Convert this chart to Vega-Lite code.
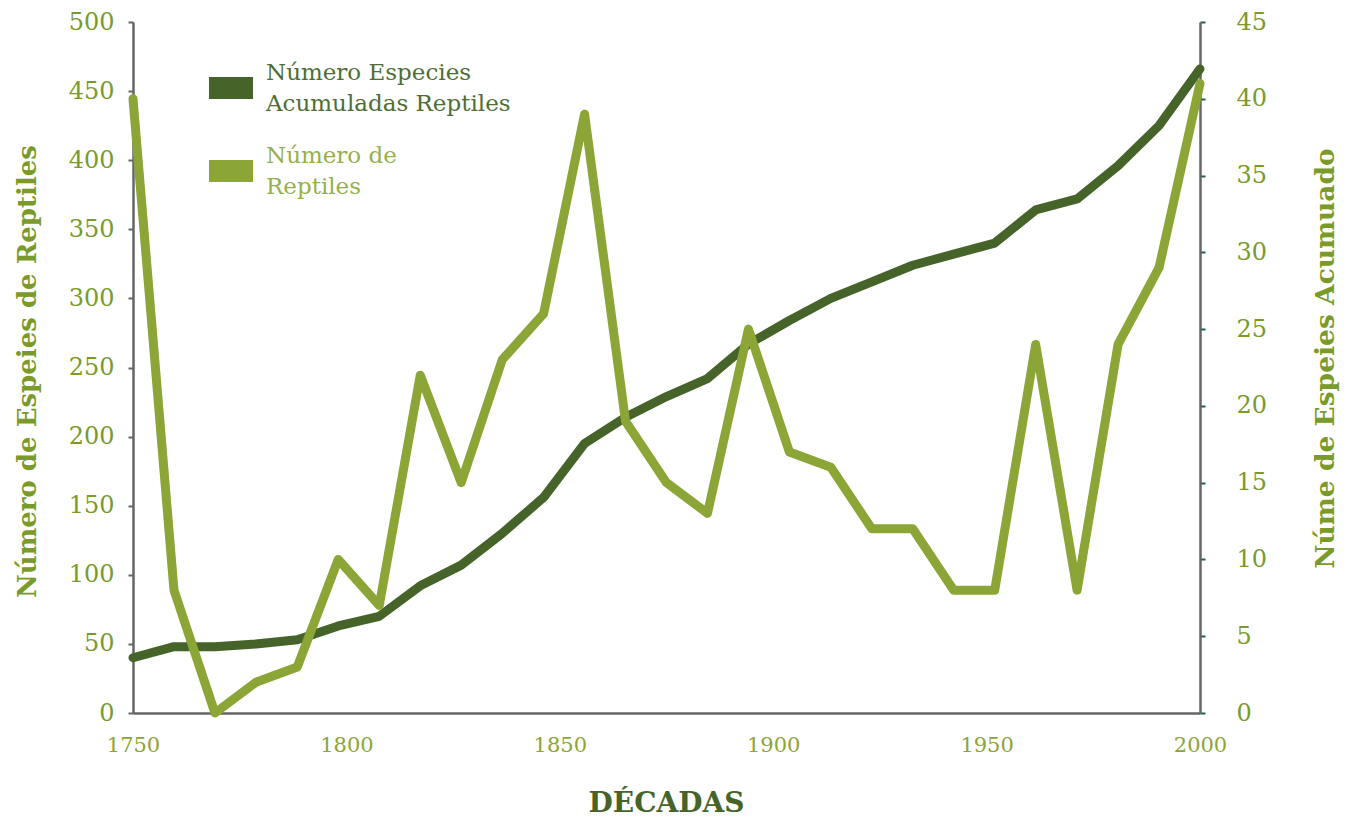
{
  "$schema": "https://vega.github.io/schema/vega-lite/v6.json",
  "width": 1067,
  "height": 691,
  "autosize": {"type": "none"},
  "padding": {"left": 133, "top": 22, "right": 149, "bottom": 105},
  "background": "white",
  "config": {
    "view": {"stroke": null},
    "font": "DejaVu Serif"
  },
  "data": {
    "values": [
      {"anio": 1750, "acum": 40, "num": 40},
      {"anio": 1759.6, "acum": 48, "num": 8},
      {"anio": 1769.2, "acum": 48, "num": 0},
      {"anio": 1778.8, "acum": 50, "num": 2},
      {"anio": 1788.5, "acum": 53, "num": 3},
      {"anio": 1798.1, "acum": 63, "num": 10},
      {"anio": 1807.7, "acum": 70, "num": 7},
      {"anio": 1817.3, "acum": 92, "num": 22},
      {"anio": 1826.9, "acum": 107, "num": 15},
      {"anio": 1836.5, "acum": 130, "num": 23},
      {"anio": 1846.2, "acum": 156, "num": 26},
      {"anio": 1855.8, "acum": 195, "num": 39},
      {"anio": 1865.4, "acum": 214, "num": 19},
      {"anio": 1875, "acum": 229, "num": 15},
      {"anio": 1884.6, "acum": 242, "num": 13},
      {"anio": 1894.2, "acum": 267, "num": 25},
      {"anio": 1903.8, "acum": 284, "num": 17},
      {"anio": 1913.5, "acum": 300, "num": 16},
      {"anio": 1923.1, "acum": 312, "num": 12},
      {"anio": 1932.7, "acum": 324, "num": 12},
      {"anio": 1942.3, "acum": 332, "num": 8},
      {"anio": 1951.9, "acum": 340, "num": 8},
      {"anio": 1961.5, "acum": 364, "num": 24},
      {"anio": 1971.2, "acum": 372, "num": 8},
      {"anio": 1980.8, "acum": 396, "num": 24},
      {"anio": 1990.4, "acum": 425, "num": 29},
      {"anio": 2000, "acum": 466, "num": 41}
    ]
  },
  "encoding": {
    "x": {
      "field": "anio",
      "type": "quantitative",
      "scale": {"domain": [1750, 2000], "nice": false, "zero": false},
      "axis": {
        "values": [1750, 1800, 1850, 1900, 1950, 2000],
        "format": "d",
        "title": "DÉCADAS",
        "titleFont": "DejaVu Serif",
        "titleFontSize": 28,
        "titleFontWeight": "bold",
        "titleColor": "#466429",
        "titleX": 533,
        "titleY": 90,
        "titleBaseline": "middle",
        "titleAlign": "center",
        "labelFont": "DejaVu Serif",
        "labelFontSize": 21,
        "labelColor": "#8BA536",
        "labelPadding": 21,
        "ticks": false,
        "grid": false,
        "domainColor": "#666666",
        "domainWidth": 2.5,
        "labelFlush": false
      }
    }
  },
  "layer": [
    {
      "mark": {"type": "line", "strokeWidth": 9, "strokeCap": "round", "strokeJoin": "round"},
      "encoding": {
        "y": {
          "field": "acum",
          "type": "quantitative",
          "scale": {"domain": [0, 500], "nice": false},
          "axis": {
            "orient": "left",
            "values": [0, 50, 100, 150, 200, 250, 300, 350, 400, 450, 500],
            "title": "Número de Espeies de Reptiles",
            "titleFont": "DejaVu Serif",
            "titleFontSize": 26,
            "titleFontWeight": "bold",
            "titleColor": "#7A9A2A",
            "titleAngle": 270,
            "titleX": -106,
            "titleY": 349,
            "titleAlign": "center",
            "titleBaseline": "middle",
            "labelFont": "DejaVu Serif",
            "labelFontSize": 24,
            "labelColor": "#7A9A2A",
            "labelPadding": 14,
            "tickColor": "#666666",
            "tickSize": 5,
            "tickWidth": 2,
            "grid": false,
            "domainColor": "#666666",
            "domainWidth": 2.5
          }
        },
        "color": {
          "datum": "acum",
          "type": "nominal",
          "scale": {"domain": ["acum", "num"], "range": ["#466429", "#8BA536"]},
          "legend": {
            "orient": "none",
            "legendX": 76,
            "legendY": 44,
            "title": null,
            "symbolType": "M-1,-0.5H1V0.5H-1Z",
            "symbolSize": 1936,
            "symbolStrokeWidth": 0,
            "labelFont": "DejaVu Serif",
            "labelFontSize": 23,
            "labelOffset": 13,
            "rowPadding": 29,
            "labelLimit": 400,
            "labelExpr": "datum.value == 'acum' ? ['Número Especies', 'Acumuladas Reptiles'] : ['Número de', 'Reptiles']",
            "encode": {
              "symbols": {"update": {"fill": {"scale": "color", "field": "value"}, "fillOpacity": {"value": 1}, "strokeWidth": {"value": 0}}},
              "labels": {"update": {"fill": {"signal": "datum.value == 'acum' ? '#4E6E36' : '#96B04A'"}, "lineHeight": {"value": 31}, "dy": {"value": -15}}}
            }
          }
        }
      }
    },
    {
      "mark": {"type": "line", "strokeWidth": 9, "strokeCap": "round", "strokeJoin": "round"},
      "encoding": {
        "y": {
          "field": "num",
          "type": "quantitative",
          "scale": {"domain": [0, 45], "nice": false},
          "axis": {
            "orient": "right",
            "values": [0, 5, 10, 15, 20, 25, 30, 35, 40, 45],
            "title": "Núme de Espeies Acumuado",
            "titleFont": "DejaVu Serif",
            "titleFontSize": 26.5,
            "titleFontWeight": "bold",
            "titleColor": "#7A9A2A",
            "titleAngle": 270,
            "titleX": 125,
            "titleY": 336,
            "titleAlign": "center",
            "titleBaseline": "middle",
            "labelFont": "DejaVu Serif",
            "labelFontSize": 24,
            "labelColor": "#7A9A2A",
            "labelPadding": 31,
            "tickColor": "#1F5F55",
            "tickSize": 5,
            "tickWidth": 2,
            "grid": false,
            "domainColor": "#666666",
            "domainWidth": 2.5
          }
        },
        "color": {"datum": "num", "type": "nominal"}
      }
    }
  ],
  "resolve": {"scale": {"y": "independent"}}
}
